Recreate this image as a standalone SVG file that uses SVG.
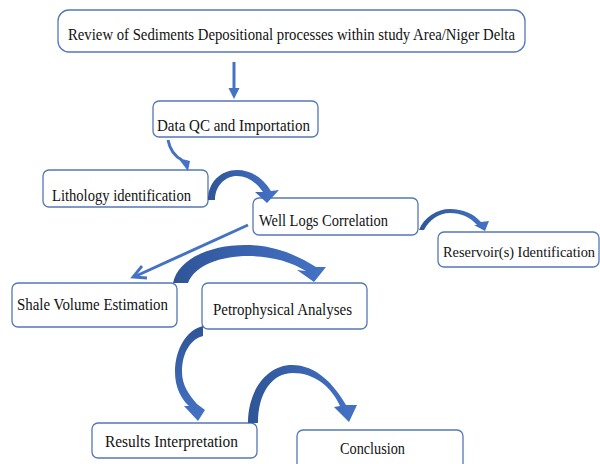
<svg xmlns="http://www.w3.org/2000/svg" width="600" height="464" viewBox="0 0 600 464">
<defs>
<style>
.box{fill:#fff;stroke:#5576b8;stroke-width:1.3}
.t{font-family:"Liberation Serif","Times New Roman",serif;font-size:16px;fill:#111}
.line{fill:none;stroke:#4472c4;stroke-width:3}
.arc{stroke:none}
</style>
<linearGradient id="g" x1="0" y1="0" x2="1" y2="0">
<stop offset="0" stop-color="#2f5597"/>
<stop offset="0.5" stop-color="#3a64b0"/>
<stop offset="1" stop-color="#4472c4"/>
</linearGradient>
<linearGradient id="gv" x1="0" y1="0" x2="0" y2="1">
<stop offset="0" stop-color="#2f5597"/>
<stop offset="1" stop-color="#4472c4"/>
</linearGradient>
</defs>
<rect width="600" height="464" fill="#fff"/>
<g id="review"><rect class="box" x="58" y="10" width="467" height="42" rx="11"/><text class="t" x="68" y="40" textLength="447" lengthAdjust="spacingAndGlyphs">Review of Sediments Depositional processes within study Area/Niger Delta</text></g>
<g id="dataqc"><rect class="box" x="153" y="101" width="165" height="36" rx="6"/><text class="t" x="157" y="131" textLength="153" lengthAdjust="spacingAndGlyphs">Data QC and Importation</text></g>
<g id="lithology"><rect class="box" x="43" y="170" width="165" height="37" rx="6"/><text class="t" x="52" y="201" textLength="139" lengthAdjust="spacingAndGlyphs">Lithology identification</text></g>
<g id="welllogs"><rect class="box" x="253" y="198" width="165" height="37" rx="6"/><text class="t" x="259" y="226" textLength="129" lengthAdjust="spacingAndGlyphs">Well Logs Correlation</text></g>
<g id="reservoir"><rect class="box" x="438" y="232" width="161" height="35" rx="6"/><text class="t" x="443" y="257" style="font-size:14.5px" textLength="152" lengthAdjust="spacingAndGlyphs">Reservoir(s) Identification</text></g>
<g id="shale"><rect class="box" x="12" y="283" width="165" height="44" rx="6"/><text class="t" x="17" y="310" textLength="151" lengthAdjust="spacingAndGlyphs">Shale Volume Estimation</text></g>
<g id="petro"><rect class="box" x="202" y="283" width="165" height="46" rx="6"/><text class="t" x="213" y="315" textLength="139" lengthAdjust="spacingAndGlyphs">Petrophysical Analyses</text></g>
<g id="results"><rect class="box" x="92" y="423" width="165" height="35" rx="6"/><text class="t" x="105" y="447" textLength="133" lengthAdjust="spacingAndGlyphs">Results Interpretation</text></g>
<g id="conclusion"><rect class="box" x="297" y="430" width="166" height="42" rx="6"/><text class="t" x="340" y="454" textLength="65" lengthAdjust="spacingAndGlyphs">Conclusion</text></g>
<g id="connectors">
<path class="line" d="M234,62 V90"/>
<path d="M228.5,88 L239.5,88 L234,99 Z" fill="#4472c4"/>
<path class="line" d="M168,140 C170,150 174,156 182,160"/>
<path d="M178,158 L190,161 L188,171 Z" fill="#4472c4"/>
<path class="arc" fill="url(#g)" d="M208,200 C208,182 221,170 237,170 C251,170 263,178 271,191 L279,190 L267,203 L255,192 L263,192 C256,182 247,176 237,176 C225,176 215,186 215,200 Z"/>
<path class="arc" fill="url(#g)" d="M419,230 C424,217 437,209 450,209 C463,209 474,214 481,222 L489,221 L485,231 L474,225 L477,225 C470,217 461,213 450,213 C439,213 429,220 424,230 Z"/>
<path class="line" d="M248,225 L136,276" stroke-width="2.8"/>
<path fill="none" stroke="#4472c4" stroke-width="2.8" d="M142,266 L133,277 L147,278"/>
<path class="arc" fill="url(#g)" d="M173,283 C178,259 210,245 245,245 C274,245 297,255 316,267 L326,267 L314,282 L297,270 L306,271 C290,261 270,256 248,256 C221,256 195,265 188,283 Z"/>
<path class="arc" fill="url(#gv)" d="M203,326 C186,330 175,350 175,372 C175,387 181,399 189,406 L184,406 L198,421 L205,410 L197,404 C189,395 182,385 182,372 C182,352 191,339 203,336 Z"/>
<path class="arc" fill="url(#g)" d="M248,423 C248,389 268,365 292,365 C316,365 334,384 346,405 L357,405 L349,422 L334,407 L340,406 C331,386 314,373 293,373 C272,373 258,393 258,423 Z"/>
</g>
</svg>
